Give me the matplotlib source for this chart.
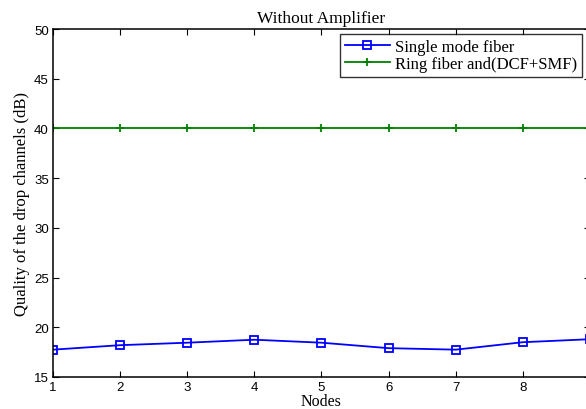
import matplotlib
matplotlib.use('Agg')
import matplotlib.pyplot as plt

nodes = [1, 2, 3, 4, 5, 6, 7, 8, 9]
node_labels = ['1', '2', '3', '4', '5', '6', '7', '8', '']
smf_quality = [17.75, 18.2, 18.45, 18.75, 18.45, 17.9, 17.75, 18.5, 18.8]
ring_quality = [40, 40, 40, 40, 40, 40, 40, 40, 40]
labels = ['Single mode fiber', 'Ring fiber and(DCF+SMF)']

serif = 'Liberation Serif'
sans = 'Liberation Sans'

fig = plt.figure(figsize=(5.86, 4.10), dpi=100, facecolor='white')
ax = fig.add_axes([53 / 586, 1 - 378 / 410, (590 - 53) / 586, (378 - 30) / 410])

ax.plot(nodes, smf_quality, color='#0000ff', linewidth=1.3, marker='s',
        markersize=6, markerfacecolor='none', markeredgewidth=1.3, label=labels[0])
ax.plot(nodes, ring_quality, color='#008000', linewidth=1.3, marker='+',
        markersize=6, markeredgewidth=1.3, label=labels[1])

ax.set_xlim(1, 9)
ax.set_ylim(15, 50)
ax.set_xticks(nodes)
ax.set_xticklabels(node_labels)
ax.set_yticks(range(15, 51, 5))
ax.tick_params(direction='in', length=4, width=0.8, top=True, right=True,
               labelsize=9.5, pad=3)
for lbl in ax.get_xticklabels() + ax.get_yticklabels():
    lbl.set_fontfamily(sans)
for spine in ax.spines.values():
    spine.set_linewidth(1.1)

ax.set_title('Without Amplifier', fontfamily=serif, fontsize=12.5, pad=5)
ax.set_xlabel('Nodes', fontfamily=serif, fontsize=11.5, labelpad=0)
ax.set_ylabel('Quality of the drop channels (dB)', fontfamily=serif, fontsize=12, labelpad=3)

leg = ax.legend(loc='upper right', bbox_to_anchor=(582 / 586, 1 - 35 / 410),
                bbox_transform=fig.transFigure, prop={'family': serif, 'size': 12},
                frameon=True, fancybox=False, borderaxespad=0, borderpad=0.3,
                labelspacing=0.05, handlelength=2.7, handletextpad=0.3)
leg.get_frame().set_edgecolor('black')
leg.get_frame().set_linewidth(1.0)

fig.savefig('out.png', dpi=100)
